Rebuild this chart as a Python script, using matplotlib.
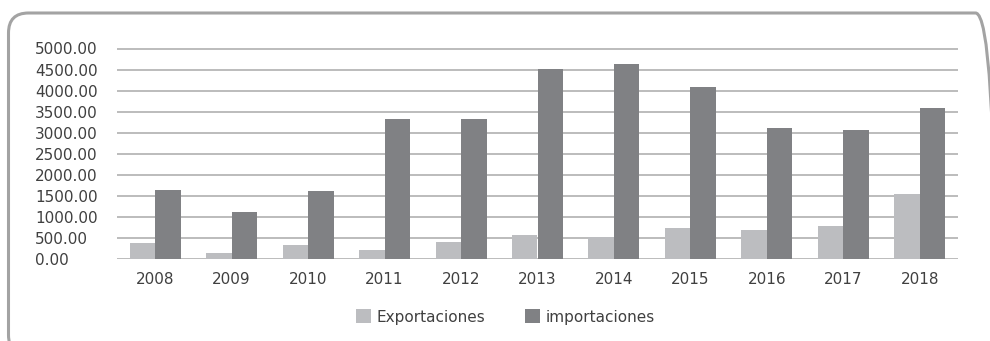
import matplotlib.pyplot as plt
import numpy as np
from matplotlib.patches import FancyBboxPatch, Patch

years = ["2008", "2009", "2010", "2011", "2012", "2013",
         "2014", "2015", "2016", "2017", "2018"]
exportaciones = [388, 150, 340, 222, 412, 578, 530, 744, 697, 792, 1536]
importaciones = [1646, 1124, 1623, 3332, 3332, 4512, 4639, 4093, 3119, 3071, 3594]
yticks = [0, 500, 1000, 1500, 2000, 2500, 3000, 3500, 4000, 4500, 5000]

c_exp = "#bcbdc0"
c_imp = "#808184"
c_grid = "#a9a9a9"
c_text = "#404040"

plt.rcParams["font.family"] = ["DejaVu Sans"]

W, H = 990, 341
fig = plt.figure(figsize=(W / 100, H / 100), dpi=100)

# rounded frame around the chart, in inches so the corners stay round
frame = FancyBboxPatch((0.085, -0.14), 9.87, 3.42,
                       boxstyle="round,pad=0,rounding_size=0.2",
                       transform=fig.dpi_scale_trans, fill=False,
                       edgecolor="#a3a3a3", linewidth=2.2, clip_on=False)
fig.patches.append(frame)

ytop = 5020
ax = fig.add_axes([117 / W, 82 / H, 841 / W, 210.5 * ytop / 5000 / H])
x = np.arange(len(years))
w = 0.333
ax.bar(x - w / 2, exportaciones, w, color=c_exp, zorder=3)
ax.bar(x + w / 2, importaciones, w, color=c_imp, zorder=3)

ax.set_xlim(-0.5, len(years) - 0.5)
ax.set_ylim(0, ytop)
ax.set_yticks(yticks)
ax.set_yticklabels([f"{v:.2f}" for v in yticks])
ax.yaxis.grid(True, color=c_grid, linewidth=1.1, zorder=0)
ax.set_axisbelow(True)
ax.set_xticks(x)
ax.set_xticklabels(years)
for s in ax.spines.values():
    s.set_visible(False)
ax.tick_params(axis="y", length=0, pad=59, labelsize=11, labelcolor=c_text)
ax.tick_params(axis="x", length=0, pad=9, labelsize=11, labelcolor=c_text)
for lab in ax.get_yticklabels():
    lab.set_horizontalalignment("left")

handles = [Patch(facecolor=c_exp, label="Exportaciones"),
           Patch(facecolor=c_imp, label="importaciones")]
fig.legend(handles=handles, loc="center", bbox_to_anchor=(505 / W, 24 / H),
           ncol=2, frameon=False, fontsize=11, labelcolor=c_text,
           handlelength=1.0, handleheight=1.0, handletextpad=0.35,
           columnspacing=2.6)

fig.savefig("out.png", dpi=100)
